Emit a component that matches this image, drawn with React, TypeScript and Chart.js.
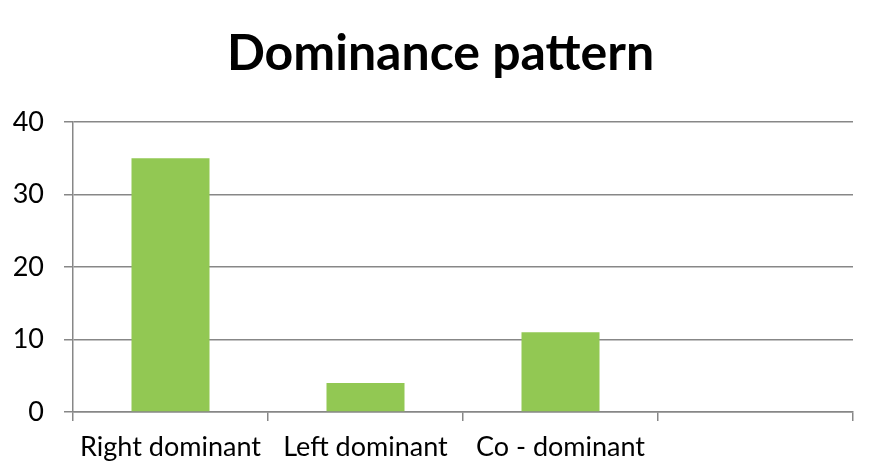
import React, { useEffect, useRef } from "react";
import { Chart, registerables } from "chart.js";

Chart.register(...registerables);

const categories = ["Right dominant", "Left dominant", "Co - dominant", ""];
const values: (number | null)[] = [35, 4, 11, null];
const yTicks = [0, 10, 20, 30, 40];
const title = "Dominance pattern";

const titlePlugin = {
  id: "centeredTitle",
  afterDraw(chart: any) {
    const ctx = chart.ctx;
    ctx.save();
    ctx.font = "bold 50px Lato";
    ctx.fillStyle = "#000";
    ctx.textAlign = "center";
    ctx.textBaseline = "middle";
    ctx.fillText(title, chart.width / 2 - 1.5, 54);
    ctx.restore();
  },
};

export default function App() {
  const ref = useRef<HTMLCanvasElement | null>(null);
  useEffect(() => {
    if (!ref.current) return;
    const grid = "#878787";
    const chart = new Chart(ref.current, {
      type: "bar",
      data: {
        labels: categories,
        datasets: [
          {
            data: values,
            backgroundColor: "#92C853",
            categoryPercentage: 1,
            barPercentage: 0.4,
          },
        ],
      },
      plugins: [titlePlugin],
      options: {
        responsive: false,
        animation: false,
        layout: { padding: { left: 0, right: 31, top: 122, bottom: 0 } },
        plugins: {
          legend: { display: false },
          tooltip: { enabled: false },
          title: { display: false },
        },
        scales: {
          x: {
            offset: true,
            grid: {
              offset: true,
              drawOnChartArea: false,
              drawTicks: true,
              tickLength: 9,
              color: grid,
              lineWidth: 1.5,
            },
            border: { display: true, color: grid, width: 1.5 },
            ticks: {
              color: "#000",
              font: { family: "Lato", size: 27 },
              padding: 10,
              maxRotation: 0,
              autoSkip: false,
            },
            afterFit: (s: any) => {
              s.height = 61;
            },
          },
          y: {
            min: 0,
            max: 40,
            afterBuildTicks: (s: any) => {
              s.ticks = yTicks.map((v) => ({ value: v }));
            },
            grid: {
              color: grid,
              lineWidth: 1.5,
              tickLength: 9,
            },
            border: { display: true, color: grid, width: 1.5 },
            ticks: {
              color: "#000",
              font: { family: "Lato", size: 27 },
              padding: 20,
            },
            afterFit: (s: any) => {
              s.width = 73;
            },
          },
        },
      },
    });
    return () => chart.destroy();
  }, []);
  return (
    <div style={{ position: "fixed", left: 0, top: 0, width: 884, height: 473, background: "#fff" }}>
      <canvas ref={ref} width={884} height={473} />
    </div>
  );
}
